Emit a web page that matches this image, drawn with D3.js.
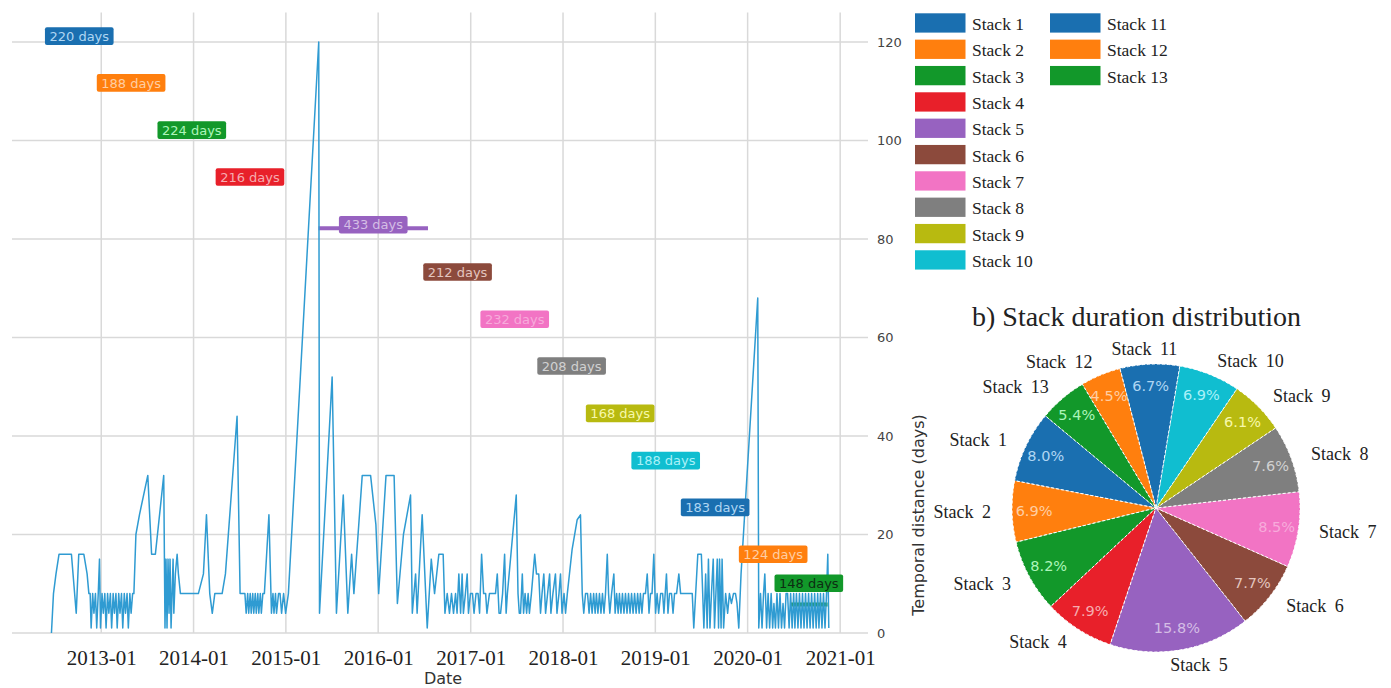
<!DOCTYPE html>
<html>
<head>
<meta charset="utf-8">
<script src="https://cdn.jsdelivr.net/npm/d3@7"></script>
<style>
  html, body { margin: 0; padding: 0; background: #ffffff; }
  svg { display: block; }
</style>
</head>
<body>
<svg id="chart" width="1391" height="688"></svg>
<script>
// ---------- data ----------
const stackNames = ["Stack 1","Stack 2","Stack 3","Stack 4","Stack 5","Stack 6","Stack 7",
                    "Stack 8","Stack 9","Stack 10","Stack 11","Stack 12","Stack 13"];
const stackDays = [220, 188, 224, 216, 433, 212, 232, 208, 168, 188, 183, 124, 148];
const stackStart = ["2012-06-18","2013-01-25","2013-09-04","2014-04-26","2015-05-10","2016-07-27",
                    "2017-02-28","2017-10-23","2018-05-23","2018-11-09","2019-05-26","2020-02-09","2020-06-17"];
// vertical placement (days axis) of each stack bar and of its duration tag
const stackLevel      = [121.2, 111.7, 102.1, 92.6, 82.2, 73.3, 63.7, 54.2, 44.6, 35.0, 25.5, 16.0, 5.8];
const stackLabelLevel = [121.2, 111.7, 102.1, 92.6, 82.9, 73.3, 63.7, 54.2, 44.6, 35.0, 25.5, 16.0, 10.1];

const xTickDates = ["2013-01-01","2014-01-01","2015-01-01","2016-01-01","2017-01-01",
                    "2018-01-01","2019-01-01","2020-01-01","2021-01-01"];
const yTicks = [0, 20, 40, 60, 80, 100, 120];

// observations: [days after seriesStart, temporal distance in days]
const seriesStart = "2012-06-18";
const temporalSeries = [
  [0,0],[8,8],[18,12],[30,16],[45,16],[61,16],[79,16],[98,4],[108,16],[128,16],[141,12],[148,8],
  [153,8],[157,1],[163,8],[168,4],[174,8],[179,1],[185,8],[190,15],[194,1],[200,8],[205,4],[211,8],
  [216,1],[222,8],[227,4],[233,8],[238,1],[244,8],[249,4],[255,8],[260,1],[266,8],[271,4],[277,8],
  [282,1],[288,8],[293,4],[299,8],[304,1],[310,8],[315,4],[321,8],
  [326,8],[334,20],[348,24],[381,32],[396,16],[411,16],[444,32],[449,1],[453,15],[457,1],[461,15],
  [465,4],[469,15],[473,1],[477,8],[481,15],[484,4],[490,12],[497,16],[502,12],[510,8],
  [534,8],[558,8],[581,8],[601,12],[613,24],[626,8],[636,4],[646,8],[660,8],[675,8],[688,12],
  [734,44],[746,8],[765,8],
  [770,4],[776,8],[780,4],[786,8],[790,4],[796,8],[800,4],[806,8],[810,4],[816,8],[820,4],[826,8],
  [830,4],[836,8],[842,8],
  [860,24],[870,4],[876,8],[880,4],[886,8],[890,4],[898,8],[904,8],[910,4],[918,8],[926,4],[937,8],
  [1057,120],[1060,4],[1110,52],[1127,4],[1154,28],[1172,4],[1187,16],[1196,8],[1229,32],[1262,32],
  [1283,22],[1294,8],[1323,32],[1355,32],[1368,6],[1392,20],[1420,28],[1427,4],[1440,12],[1446,4],
  [1466,24],[1486,1],[1502,15],[1515,8],[1532,16],[1549,16],[1556,4],[1565,8],
  [1574,4],[1582,8],[1590,4],[1598,8],[1604,4],[1611,12],[1618,4],[1624,12],[1629,4],[1637,8],
  [1644,12],[1649,4],[1657,8],[1665,8],[1671,4],[1679,8],[1687,8],[1693,4],[1701,16],[1709,8],
  [1717,8],[1722,4],[1732,8],[1740,8],[1748,8],[1756,8],[1763,12],[1770,4],[1776,4],[1784,8],
  [1792,16],[1798,4],[1803,8],[1838,28],[1845,8],[1850,4],[1855,4],[1862,12],[1867,4],[1873,8],
  [1879,4],[1885,8],[1890,4],[1898,8],[1911,16],[1918,12],[1927,12],[1934,4],[1940,8],[1947,12],
  [1954,4],[1962,8],[1970,12],[1975,4],[1983,8],[1993,12],[1999,4],[2007,8],[2013,12],[2019,4],
  [2027,8],[2033,4],[2040,8],[2059,17],[2079,23],[2092,24],[2099,8],[2105,4],
  [2112,8],[2120,8],[2126,4],[2132,8],[2138,4],[2144,8],[2150,4],[2155,8],[2161,4],[2167,8],
  [2173,4],[2179,8],[2185,4],[2191,8],[2198,16],[2203,8],[2208,4],[2215,8],[2224,12],[2229,4],
  [2235,8],[2241,4],[2246,8],[2252,4],[2258,8],[2264,4],[2270,8],[2276,4],[2282,8],[2288,4],
  [2294,8],[2300,4],[2306,8],[2312,4],[2318,8],[2324,4],[2329,8],[2335,4],[2341,8],[2349,8],
  [2356,12],[2363,4],[2369,8],[2375,8],[2382,16],[2389,4],[2395,8],[2401,4],[2409,8],[2417,8],
  [2422,4],[2432,12],[2438,4],[2444,8],[2452,8],[2458,4],[2464,8],[2472,8],[2481,12],[2488,8],
  [2500,8],[2511,8],[2523,8],[2534,8],[2540,1],[2556,16],[2570,16],[2580,1],[2587,12],[2593,1],
  [2598,15],[2604,1],[2610,8],[2617,15],[2622,1],[2633,15],[2638,1],[2642,15],[2648,1],[2652,15],
  [2658,1],[2666,8],[2674,4],[2681,8],[2689,6],[2697,8],[2705,8],[2711,6],[2718,1],[2727,12],
  [2793,68],[2797,1],[2804,8],[2810,1],[2816,8],[2821,12],[2828,1],[2834,8],[2840,1],[2846,8],
  [2852,1],[2857,6],[2863,1],[2869,8],[2875,1],[2881,8],[2887,1],[2893,6],[2899,1],[2905,8],
  [2911,8],[2917,1],[2923,8],[2929,1],[2935,8],[2940,1],[2946,8],[2952,1],[2958,8],[2964,1],
  [2970,8],[2976,1],[2982,8],[2988,1],[2994,8],[3000,1],[3006,8],[3012,1],[3018,8],[3024,1],
  [3030,8],[3035,1],[3041,8],[3047,1],[3053,8],[3059,1],[3065,8],[3070,16],[3074,1]
];

// ---------- styles ----------
const stackColors = ["#1a6fb0","#ff7f0e","#12982a","#e8202a","#9762c0","#8c4a3c","#f274c4",
                     "#7f7f7f","#b8ba10","#10bed0","#1a6fb0","#ff7f0e","#12982a"];
const lineColor = "#2f9bd2";
const gridColor = "#d9d9d9";
const serif = "'Liberation Serif', 'Times New Roman', serif";
const sans = "'DejaVu Sans', Verdana, sans-serif";

const tint = c => { const h = d3.hsl(c); h.l = 0.82; return h.formatHex(); };

// ---------- setup ----------
const svg = d3.select("#chart");
const parse = d3.utcParse("%Y-%m-%d");
const t0 = parse(seriesStart);

const x = d3.scaleUtc()
  .domain([parse("2012-01-14"), parse("2021-04-21")])
  .range([12, 868]);
const y = d3.scaleLinear().domain([0, 126]).range([633, 12.45]);

const plot = svg.append("g");

// grid
plot.append("g").selectAll("line").data(xTickDates.map(parse)).join("line")
  .attr("x1", d => x(d)).attr("x2", d => x(d))
  .attr("y1", y(126)).attr("y2", y(0))
  .attr("stroke", gridColor).attr("stroke-width", 1.5);
plot.append("g").selectAll("line").data(yTicks).join("line")
  .attr("x1", 12).attr("x2", 868)
  .attr("y1", d => y(d)).attr("y2", d => y(d))
  .attr("stroke", gridColor).attr("stroke-width", 1.5);

// x axis labels
const xAxis = plot.append("g").attr("transform", `translate(0,${y(0)})`)
  .call(d3.axisBottom(x).tickValues(xTickDates.map(parse))
    .tickFormat(d3.utcFormat("%Y-%m")).tickSize(0));
xAxis.select(".domain").remove();
xAxis.selectAll("text")
  .attr("y", 32).attr("dy", null)
  .attr("font-family", serif).attr("font-size", 21).attr("fill", "#222");

// right y axis labels
const yAxis = plot.append("g").attr("transform", "translate(868,0)")
  .call(d3.axisRight(y).tickValues(yTicks).tickSize(0).tickPadding(9));
yAxis.select(".domain").remove();
yAxis.selectAll("text").attr("font-family", sans).attr("font-size", 13).attr("fill", "#444");

// axis titles
svg.append("text").attr("x", 443).attr("y", 684).attr("text-anchor", "middle")
  .attr("font-family", sans).attr("font-size", 16).attr("fill", "#333").text("Date");
svg.append("text")
  .attr("transform", "translate(924,515) rotate(-90)")
  .attr("text-anchor", "middle")
  .attr("font-family", sans).attr("font-size", 16).attr("fill", "#333")
  .text("Temporal distance (days)");

// stack bars
const stacks = stackNames.map((name, i) => {
  const s = parse(stackStart[i]);
  return {
    name, i, days: stackDays[i], color: stackColors[i],
    start: s, end: d3.utcDay.offset(s, stackDays[i]),
    mid: new Date(s.getTime() + stackDays[i] * 43200000),
    level: stackLevel[i], labelLevel: stackLabelLevel[i]
  };
});
plot.append("g").selectAll("line").data(stacks).join("line")
  .attr("x1", d => x(d.start)).attr("x2", d => x(d.end))
  .attr("y1", d => y(d.level)).attr("y2", d => y(d.level))
  .attr("stroke", d => d.color).attr("stroke-width", 4);

// temporal distance series
const line = d3.line()
  .x(d => x(d3.utcDay.offset(t0, d[0])))
  .y(d => y(d[1]));
plot.append("path").datum(temporalSeries)
  .attr("d", line).attr("fill", "none")
  .attr("stroke", lineColor).attr("stroke-width", 1.5)
  .attr("stroke-linejoin", "round");

// duration tags
const tags = plot.append("g").selectAll("g").data(stacks).join("g")
  .attr("transform", d => `translate(${x(d.mid)},${y(d.labelLevel)})`);
tags.append("text")
  .attr("text-anchor", "middle").attr("dy", "0.36em")
  .attr("font-family", sans).attr("font-size", 13)
  .attr("fill", d => d.i === 12 ? "#0d2d12" : tint(d.color))
  .text(d => `${d.days} days`)
  .each(function (d) { d.tw = this.getComputedTextLength(); });
tags.insert("rect", "text")
  .attr("x", d => -d.tw / 2 - 4.5).attr("y", -8.8)
  .attr("width", d => d.tw + 9).attr("height", 17.6)
  .attr("rx", 2).attr("fill", d => d.color);

// ---------- legend ----------
const legend = svg.append("g");
const legendItems = legend.selectAll("g").data(stacks).join("g")
  .attr("transform", d => {
    const col = d.i < 10 ? 0 : 1, row = d.i < 10 ? d.i : d.i - 10;
    return `translate(${col ? 1050 : 915},${13.3 + row * 26.33})`;
  });
legendItems.append("rect").attr("width", 50.5).attr("height", 19.3).attr("fill", d => d.color);
legendItems.append("text").attr("x", 57).attr("y", 10.5).attr("dy", "0.35em")
  .attr("font-family", serif).attr("font-size", 17.5).attr("fill", "#222")
  .text(d => d.name);

// ---------- pie ----------
svg.append("text").attr("x", 972).attr("y", 326)
  .attr("font-family", serif).attr("font-size", 28).attr("fill", "#222")
  .text("b) Stack duration distribution");

const cx = 1156, cy = 508, R = 144;
const a0 = -50.2 * Math.PI / 180;
const pie = d3.pie().sort(null).value(d => d.days).startAngle(a0).endAngle(a0 - 2 * Math.PI);
const arcs = pie(stacks);
const total = d3.sum(stackDays);
const arc = d3.arc().innerRadius(0).outerRadius(R);
const pg = svg.append("g").attr("transform", `translate(${cx},${cy})`);

pg.selectAll("path").data(arcs).join("path")
  .attr("d", arc).attr("fill", d => d.data.color)
  .attr("stroke", "#ffffff").attr("stroke-width", 1).attr("stroke-dasharray", "3 2");

const midA = d => (d.startAngle + d.endAngle) / 2;

pg.selectAll("text.pct").data(arcs).join("text").attr("class", "pct")
  .attr("x", d => 122 * Math.sin(midA(d)))
  .attr("y", d => -122 * Math.cos(midA(d)))
  .attr("text-anchor", "middle").attr("dy", "0.36em")
  .attr("font-family", sans).attr("font-size", 14.5)
  .attr("fill", d => tint(d.data.color))
  .text(d => (d.data.days / total * 100).toFixed(1) + "%");

pg.selectAll("text.name").data(arcs).join("text").attr("class", "name")
  .attr("text-anchor", "middle").attr("dy", "0.35em")
  .attr("font-family", serif).attr("font-size", 18).attr("fill", "#222")
  .attr("word-spacing", 4)
  .text(d => d.data.name)
  .each(function (d) {
    const w = this.getComputedTextLength();
    const a = midA(d), s = Math.sin(a), c = Math.cos(a);
    const push = Math.max(-1, Math.min(1, 3 * s)) * w / 2;
    d3.select(this).attr("x", 165 * s + push).attr("y", -159 * c);
  });
</script>
</body>
</html>
